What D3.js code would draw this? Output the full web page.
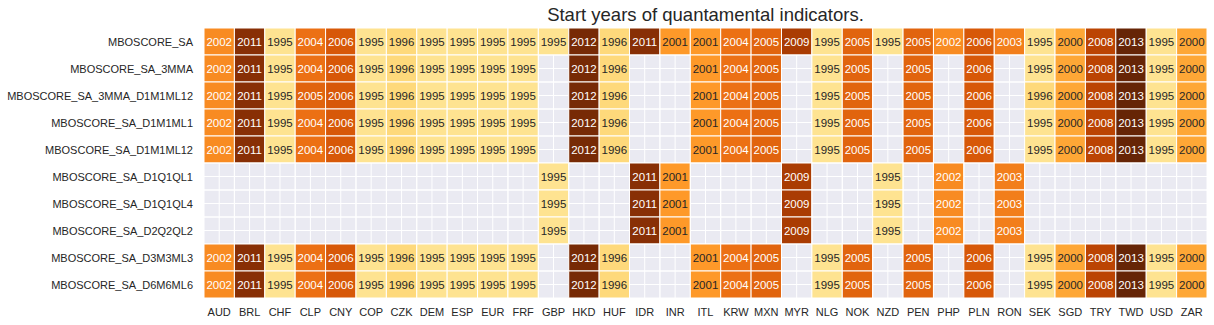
<!DOCTYPE html>
<html>
<head>
<meta charset="utf-8">
<script src="https://cdn.jsdelivr.net/npm/d3@7"></script>
<style>
  body { margin: 0; background: #fff; }
  svg { display: block; font-family: "Liberation Sans", Arial, sans-serif; }
</style>
</head>
<body>
<svg id="chart" width="1214" height="325"></svg>
<script>
// colonnes (devises) et lignes (indicateurs)
var currencies = ["AUD","BRL","CHF","CLP","CNY","COP","CZK","DEM","ESP","EUR","FRF","GBP","HKD","HUF","IDR","INR",
  "ITL","KRW","MXN","MYR","NLG","NOK","NZD","PEN","PHP","PLN","RON","SEK","SGD","TRY","TWD","USD","ZAR"];

var indicators = ["MBOSCORE_SA","MBOSCORE_SA_3MMA","MBOSCORE_SA_3MMA_D1M1ML12","MBOSCORE_SA_D1M1ML1",
  "MBOSCORE_SA_D1M1ML12","MBOSCORE_SA_D1Q1QL1","MBOSCORE_SA_D1Q1QL4","MBOSCORE_SA_D2Q2QL2",
  "MBOSCORE_SA_D3M3ML3","MBOSCORE_SA_D6M6ML6"];

var N = null;
// une ligne par indicateur, dans l'ordre des devises
var rowSA        = [2002,2011,1995,2004,2006,1995,1996,1995,1995,1995,1995,1995,2012,1996,2011,2001,2001,2004,2005,2009,1995,2005,1995,2005,2002,2006,2003,1995,2000,2008,2013,1995,2000];
var row3MMA      = [2002,2011,1995,2004,2006,1995,1996,1995,1995,1995,1995,N,2012,1996,N,N,2001,2004,2005,N,1995,2005,N,2005,N,2006,N,1995,2000,2008,2013,1995,2000];
var row3MMA_D1   = [2002,2011,1995,2005,2006,1995,1996,1995,1995,1995,1995,N,2012,1996,N,N,2001,2004,2005,N,1995,2005,N,2005,N,2006,N,1996,2000,2008,2013,1995,2000];
var rowD1M1ML1   = [2002,2011,1995,2004,2006,1995,1996,1995,1995,1995,1995,N,2012,1996,N,N,2001,2004,2005,N,1995,2005,N,2005,N,2006,N,1995,2000,2008,2013,1995,2000];
var rowD1M1ML12  = [2002,2011,1995,2004,2006,1995,1996,1995,1995,1995,1995,N,2012,1996,N,N,2001,2004,2005,N,1995,2005,N,2005,N,2006,N,1995,2000,2008,2013,1995,2000];
var rowD1Q1QL1   = [N,N,N,N,N,N,N,N,N,N,N,1995,N,N,2011,2001,N,N,N,2009,N,N,1995,N,2002,N,2003,N,N,N,N,N,N];
var rowD1Q1QL4   = [N,N,N,N,N,N,N,N,N,N,N,1995,N,N,2011,2001,N,N,N,2009,N,N,1995,N,2002,N,2003,N,N,N,N,N,N];
var rowD2Q2QL2   = [N,N,N,N,N,N,N,N,N,N,N,1995,N,N,2011,2001,N,N,N,2009,N,N,1995,N,2002,N,2003,N,N,N,N,N,N];
var rowD3M3ML3   = [2002,2011,1995,2004,2006,1995,1996,1995,1995,1995,1995,N,2012,1996,N,N,2001,2004,2005,N,1995,2005,N,2005,N,2006,N,1995,2000,2008,2013,1995,2000];
var rowD6M6ML6   = [2002,2011,1995,2004,2006,1995,1996,1995,1995,1995,1995,N,2012,1996,N,N,2001,2004,2005,N,1995,2005,N,2005,N,2006,N,1995,2000,2008,2013,1995,2000];

var rows = [rowSA,row3MMA,row3MMA_D1,rowD1M1ML1,rowD1M1ML12,rowD1Q1QL1,rowD1Q1QL4,rowD2Q2QL2,rowD3M3ML3,rowD6M6ML6];

var svg = d3.select("#chart");
var plotLeft = 204, plotRight = 1207, plotTop = 28, plotBottom = 298;

var x = d3.scaleBand().domain(currencies).range([plotLeft, plotRight]);
var y = d3.scaleBand().domain(indicators).range([plotTop, plotBottom]);

// palette YlOrBr (9 couleurs, comme matplotlib)
var ylorbr = ["#ffffe5","#fff7bc","#fee391","#fec44f","#fe9929","#ec7014","#cc4c02","#993404","#662506"];
var vmin = 1989, vmax = 2013;
var color = d3.scaleLinear()
  .domain(d3.range(9).map(function(i){ return vmin + (vmax - vmin) * i / 8; }))
  .range(ylorbr)
  .interpolate(d3.interpolateRgb)
  .clamp(true);

function luminance(c) {
  var rgb = d3.rgb(c);
  var f = function(v){ v = v / 255; return v <= 0.03928 ? v / 12.92 : Math.pow((v + 0.055) / 1.055, 2.4); };
  return 0.2126 * f(rgb.r) + 0.7152 * f(rgb.g) + 0.0722 * f(rgb.b);
}

// fond gris + grille blanche
svg.append("rect")
  .attr("x", plotLeft).attr("y", plotTop)
  .attr("width", plotRight - plotLeft).attr("height", plotBottom - plotTop)
  .attr("fill", "#eaeaf2");

svg.selectAll(".vgrid").data(currencies).enter().append("line")
  .attr("x1", d => x(d) + x.bandwidth() / 2).attr("x2", d => x(d) + x.bandwidth() / 2)
  .attr("y1", plotTop).attr("y2", plotBottom)
  .attr("stroke", "#fff").attr("stroke-width", 1);

svg.selectAll(".hgrid").data(indicators).enter().append("line")
  .attr("y1", d => y(d) + y.bandwidth() / 2).attr("y2", d => y(d) + y.bandwidth() / 2)
  .attr("x1", plotLeft).attr("x2", plotRight)
  .attr("stroke", "#fff").attr("stroke-width", 1);

var cells = [];
rows.forEach(function(r, i) {
  r.forEach(function(v, j) {
    cells.push({ row: indicators[i], col: currencies[j], value: v });
  });
});

svg.selectAll(".cell").data(cells).enter().append("rect")
  .attr("class", "cell")
  .attr("x", d => x(d.col)).attr("y", d => y(d.row))
  .attr("width", x.bandwidth()).attr("height", y.bandwidth())
  .attr("fill", d => d.value == null ? "none" : color(d.value))
  .attr("stroke", "#fff").attr("stroke-width", 1);

svg.selectAll(".annot").data(cells.filter(d => d.value != null)).enter().append("text")
  .attr("class", "annot")
  .attr("x", d => x(d.col) + x.bandwidth() / 2)
  .attr("y", d => y(d.row) + y.bandwidth() / 2)
  .attr("text-anchor", "middle")
  .attr("dominant-baseline", "central")
  .attr("font-size", "11.5px")
  .attr("fill", d => luminance(color(d.value)) > 0.408 ? "#262626" : "#ffffff")
  .text(d => d.value);

// étiquettes des axes
svg.selectAll(".xlab").data(currencies).enter().append("text")
  .attr("x", d => x(d) + x.bandwidth() / 2)
  .attr("y", 312)
  .attr("text-anchor", "middle")
  .attr("dominant-baseline", "central")
  .attr("font-size", "11px")
  .attr("fill", "#262626")
  .text(d => d);

svg.selectAll(".ylab").data(indicators).enter().append("text")
  .attr("x", 193)
  .attr("y", d => y(d) + y.bandwidth() / 2)
  .attr("text-anchor", "end")
  .attr("dominant-baseline", "central")
  .attr("font-size", "11px")
  .attr("fill", "#262626")
  .text(d => d);

svg.append("text")
  .attr("x", (plotLeft + plotRight) / 2)
  .attr("y", 21)
  .attr("text-anchor", "middle")
  .attr("font-size", "18.5px")
  .attr("fill", "#262626")
  .text("Start years of quantamental indicators.");
</script>
</body>
</html>
